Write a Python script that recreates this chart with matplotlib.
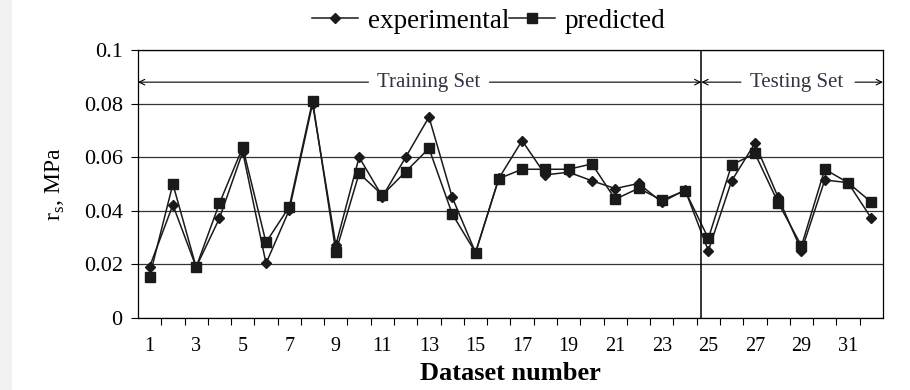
import matplotlib.pyplot as plt
from matplotlib.patches import Rectangle
import numpy as np

plt.rcParams['font.family'] = ['Liberation Serif', 'DejaVu Serif']

dataset = np.arange(1, 33)
experimental = [0.0191, 0.0422, 0.019, 0.0372, 0.062, 0.0204, 0.0403, 0.080,
                0.0272, 0.060, 0.0453, 0.060, 0.0750, 0.045, 0.0244, 0.0521,
                0.0662, 0.0534, 0.0544, 0.0512, 0.0483, 0.0502, 0.0432, 0.0478,
                0.0251, 0.0512, 0.0652, 0.045, 0.0251, 0.0515, 0.0505, 0.0372]
predicted = [0.0154, 0.050, 0.019, 0.0428, 0.0637, 0.0282, 0.0415, 0.081,
             0.0247, 0.054, 0.0459, 0.0546, 0.0633, 0.0388, 0.0244, 0.052,
             0.0555, 0.0555, 0.0555, 0.0575, 0.0443, 0.0484, 0.044, 0.0475,
             0.0297, 0.0571, 0.0614, 0.043, 0.0269, 0.0555, 0.0505, 0.0432]
yticks = [0, 0.02, 0.04, 0.06, 0.08, 0.1]
ytick_labels = ['0', '0.02', '0.04', '0.06', '0.08', '0.1']
split_at = 24.7

fig = plt.figure(figsize=(9.1, 3.9), dpi=100)
fig.patches.append(Rectangle((0, 0), 12 / 910, 1, transform=fig.transFigure,
                             facecolor='#f2f2f2', edgecolor='none'))
ax = fig.add_axes([0.1516, 0.1846, 0.8187, 0.6872])

ax.plot(dataset, experimental, color='#1a1a1a', lw=1.1, marker='D', ms=5,
        label='experimental')
ax.plot(dataset, predicted, color='#1a1a1a', lw=1.1, marker='s', ms=6.5,
        label='predicted')

ax.set_xlim(0.5, 32.5)
ax.set_ylim(0, 0.1)
ax.set_yticks(yticks)
ax.set_yticklabels(ytick_labels, fontsize=16)
ax.set_xticks(dataset[::2])
ax.set_xticklabels([str(d) for d in dataset[::2]], fontsize=14.5)
ax.set_xticks(dataset[:-1] + 0.5, minor=True)
ax.tick_params(axis='x', which='major', length=0, pad=14)
ax.tick_params(axis='x', which='minor', length=5, width=0.8, direction='out')
ax.tick_params(axis='y', length=5, width=0.8, pad=6)
ax.grid(axis='y', color='#333333', lw=0.9)
ax.set_axisbelow(True)
for s in ax.spines.values():
    s.set_linewidth(0.9)

ax.axvline(split_at, color='black', lw=1.1)

ax.set_xlabel('Dataset number', fontsize=19, fontweight='bold', labelpad=4)
ax.set_ylabel(r'r$_\mathregular{s}$, MPa', fontsize=17, labelpad=12)

ya = 0.088
arr = dict(arrowstyle='->', color='black', lw=0.8, shrinkA=0, shrinkB=0)
ax.annotate('', xy=(0.5, ya), xytext=(10.4, ya), arrowprops=arr)
ax.annotate('', xy=(split_at, ya), xytext=(15.6, ya), arrowprops=arr)
ax.text(13.0, ya, 'Training Set', ha='center', va='center', fontsize=15,
        color='#333344')
ax.annotate('', xy=(split_at, ya), xytext=(26.4, ya), arrowprops=arr)
ax.annotate('', xy=(32.5, ya), xytext=(31.3, ya), arrowprops=arr)
ax.text(28.8, ya, 'Testing Set', ha='center', va='center', fontsize=15,
        color='#333344')

ax.legend(loc='lower center', bbox_to_anchor=(0.471, 1.02), ncol=2,
          frameon=False, fontsize=19.5, handlelength=1.7, handletextpad=0.35,
          columnspacing=0.0, borderaxespad=0)

fig.savefig('out.png', dpi=100)
